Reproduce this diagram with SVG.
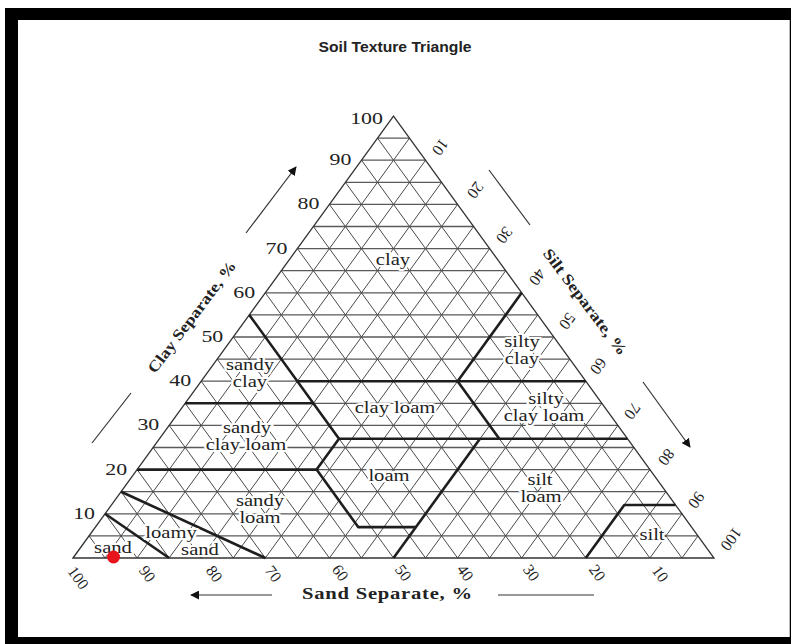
<svg xmlns="http://www.w3.org/2000/svg" width="791" height="644" viewBox="0 0 791 644">
<style>
.grid{fill:none;stroke:#4a4a4a;stroke-width:1}
.hgrid{fill:none;stroke:#5a5a5a;stroke-width:1.3}
.bound{fill:none;stroke:#1e1e1e;stroke-width:2.6;stroke-linejoin:round}
.edge{fill:none;stroke:#333;stroke-width:1.3}
.ser{font-family:"Liberation Serif","Times New Roman",serif;font-size:17.5px;fill:#222}
.lbl{font-family:"Liberation Serif","Times New Roman",serif;font-size:16.5px;fill:#222;text-anchor:middle;stroke:#fff;stroke-width:4;paint-order:stroke;stroke-linejoin:round}
.num{font-family:"Liberation Serif","Times New Roman",serif;font-size:16px;fill:#222;text-anchor:middle}
.axis{font-family:"Liberation Serif","Times New Roman",serif;font-weight:bold;fill:#222;text-anchor:middle}
.deco{fill:none;stroke:#333;stroke-width:1.2}
</style>
<defs>
<marker id="ah" viewBox="0 0 10 10" refX="9" refY="5" markerWidth="9" markerHeight="9" markerUnits="userSpaceOnUse" orient="auto">
<path d="M0 0L10 5L0 10Z" fill="#111"/>
</marker>
</defs>
<rect width="791" height="644" fill="#fff"/>
<g id="frame">
<rect x="5" y="8" width="786" height="636" fill="#000"/>
<rect x="18" y="20" width="771" height="617" fill="#fff"/>
<line x1="789.5" y1="20" x2="789.5" y2="637" stroke="#bbb" stroke-width="1"/>
</g>
<text id="title" x="395" y="52" text-anchor="middle" font-family="'Liberation Sans',Arial,sans-serif" font-weight="bold" font-size="15.5" fill="#222" textLength="153" lengthAdjust="spacingAndGlyphs">Soil Texture Triangle</text>
<g id="grid">
<path class="hgrid" d="M89 535.9H698M105.05 513.8H681.95M121.1 491.7H665.9M137.1 469.6H649.9M153.1 447.5H633.9M169.2 425.4H617.9M185.2 403.3H601.8M201.2 381.2H585.8M217.2 359.1H569.8M233.3 337H553.8M249.3 314.9H537.7M265.3 292.8H521.7M281.3 270.7H505.7M297.4 248.6H489.7M313.4 226.5H473.6M329.4 204.4H457.6M345.4 182.3H441.6M361.5 160.2H425.6M377.5 138.1H409.5"/>
<path class="grid" d="M105.05 558L409.5 138.1M137.1 558L425.6 160.2M169.15 558L441.6 182.3M201.2 558L457.6 204.4M233.25 558L473.6 226.5M265.3 558L489.7 248.6M297.35 558L505.7 270.7M329.4 558L521.7 292.8M361.45 558L537.7 314.9M393.5 558L553.8 337M425.55 558L569.8 359.1M457.6 558L585.8 381.2M489.65 558L601.8 403.3M521.7 558L617.9 425.4M553.75 558L633.9 447.5M585.8 558L649.9 469.6M617.85 558L665.9 491.7M649.9 558L681.95 513.8M681.95 558L698 535.9"/>
<path class="grid" d="M681.95 558L377.5 138.1M649.9 558L361.5 160.2M617.85 558L345.4 182.3M585.8 558L329.4 204.4M553.75 558L313.4 226.5M521.7 558L297.4 248.6M489.65 558L281.3 270.7M457.6 558L265.3 292.8M425.55 558L249.3 314.9M393.5 558L233.3 337M361.45 558L217.2 359.1M329.4 558L201.2 381.2M297.35 558L185.2 403.3M265.3 558L169.2 425.4M233.25 558L153.1 447.5M201.2 558L137.1 469.6M169.15 558L121.1 491.7M137.1 558L105.05 513.8M105.05 558L89 535.9"/>
<path class="edge" d="M73 558L393.5 116L714 558Z"/>
</g>
<g id="connectors">
<path class="bound" d="M249.3 314.9L339 438.7L316.6 469.6L358.2 527.1H416"/>
<path class="bound" d="M137.1 469.6H316.6"/>
<path class="bound" d="M185.2 403.3H313.4"/>
<path class="bound" d="M297.4 381.2H585.8"/>
<path class="bound" d="M521.7 292.8L457.6 381.2L499.3 438.7"/>
<path class="bound" d="M339 438.7H627.5"/>
<path class="bound" d="M480 438.7L393.5 558"/>
<path class="bound" d="M585.8 558L624.3 505H675.5"/>
<path class="bound" d="M265.3 558L121.1 491.7"/>
<path class="bound" d="M169.15 558L105.05 513.8"/>
<line class="deco" x1="246" y1="233" x2="296" y2="167" marker-end="url(#ah)"/>
<line class="deco" x1="92" y1="443" x2="131" y2="393"/>
<line class="deco" x1="489" y1="170" x2="530" y2="225"/>
<line class="deco" x1="643" y1="382" x2="690" y2="447" marker-end="url(#ah)"/>
<line class="deco" x1="272" y1="595" x2="191" y2="595" marker-end="url(#ah)"/>
<line class="deco" x1="498" y1="595" x2="594" y2="595"/>
</g>
<g transform="scale(1.25 1)">
<g id="clay-ticks" class="ser" text-anchor="end">
<text x="306.4" y="124">100</text>
<text x="281.2" y="165.2">90</text>
<text x="255.5" y="209.4">80</text>
<text x="229.9" y="253.6">70</text>
<text x="204.2" y="297.8">60</text>
<text x="178.6" y="342">50</text>
<text x="153" y="386.2">40</text>
<text x="127.4" y="430.4">30</text>
<text x="101.7" y="474.6">20</text>
<text x="76" y="518.8">10</text>
</g>
<g id="clay"><text class="lbl" x="314.4" y="265">clay</text></g>
<g id="silty-clay"><text class="lbl" x="417.6" y="347">silty</text><text class="lbl" x="417.6" y="364">clay</text></g>
<g id="silty-clay-loam"><text class="lbl" x="436.8" y="404">silty</text><text class="lbl" x="435.2" y="421">clay loam</text></g>
<g id="sandy-clay"><text class="lbl" x="200" y="370">sandy</text><text class="lbl" x="200" y="387">clay</text></g>
<g id="clay-loam"><text class="lbl" x="316" y="413">clay loam</text></g>
<g id="sandy-clay-loam"><text class="lbl" x="197.6" y="433">sandy</text><text class="lbl" x="196.8" y="450">clay loam</text></g>
<g id="loam"><text class="lbl" x="311.2" y="481">loam</text></g>
<g id="silt-loam"><text class="lbl" x="432" y="485">silt</text><text class="lbl" x="432.8" y="502.5">loam</text></g>
<g id="sandy-loam"><text class="lbl" x="208" y="506">sandy</text><text class="lbl" x="208" y="523">loam</text></g>
<g id="loamy-sand"><text class="lbl" x="136.8" y="538">loamy</text><text class="lbl" x="160" y="555">sand</text></g>
<g id="sand"><text class="lbl" x="90.4" y="553">sand</text></g>
<g id="silt"><text class="lbl" x="521.6" y="540">silt</text></g>
<text id="sand-title" class="axis" x="309.6" y="599" font-size="16.5" textLength="136" lengthAdjust="spacing">Sand Separate, %</text>
</g>
<text id="clay-title" class="axis" font-size="15.5" transform="translate(192 317) rotate(-53)" x="0" y="5" textLength="136" lengthAdjust="spacingAndGlyphs">Clay Separate, %</text>
<text id="silt-title" class="axis" font-size="15.5" transform="translate(585 302) rotate(53)" x="0" y="5" textLength="129" lengthAdjust="spacingAndGlyphs">Silt Separate, %</text>
<g id="sand-ticks" class="num">
<text transform="translate(78 578) rotate(54)" y="5">100</text>
<text transform="translate(147 574) rotate(54)" y="5">90</text>
<text transform="translate(214 574) rotate(54)" y="5">80</text>
<text transform="translate(273 574) rotate(54)" y="5">70</text>
<text transform="translate(340 573) rotate(54)" y="5">60</text>
<text transform="translate(403 573) rotate(54)" y="5">50</text>
<text transform="translate(465 573) rotate(54)" y="5">40</text>
<text transform="translate(531 573) rotate(54)" y="5">30</text>
<text transform="translate(597 573) rotate(54)" y="5">20</text>
<text transform="translate(660 574) rotate(54)" y="5">10</text>
</g>
<g id="silt-ticks" class="num">
<text transform="translate(440 147) rotate(126)" y="5">10</text>
<text transform="translate(475 190) rotate(126)" y="5">20</text>
<text transform="translate(504 235) rotate(126)" y="5">30</text>
<text transform="translate(537 277) rotate(126)" y="5">40</text>
<text transform="translate(567 321) rotate(126)" y="5">50</text>
<text transform="translate(598 366) rotate(126)" y="5">60</text>
<text transform="translate(632 411) rotate(126)" y="5">70</text>
<text transform="translate(666 457) rotate(126)" y="5">80</text>
<text transform="translate(696 500) rotate(126)" y="5">90</text>
<text transform="translate(731 539) rotate(126)" y="5">100</text>
</g>
<circle id="sample-point" cx="113.5" cy="557" r="6.5" fill="#e8141b"/>
</svg>
